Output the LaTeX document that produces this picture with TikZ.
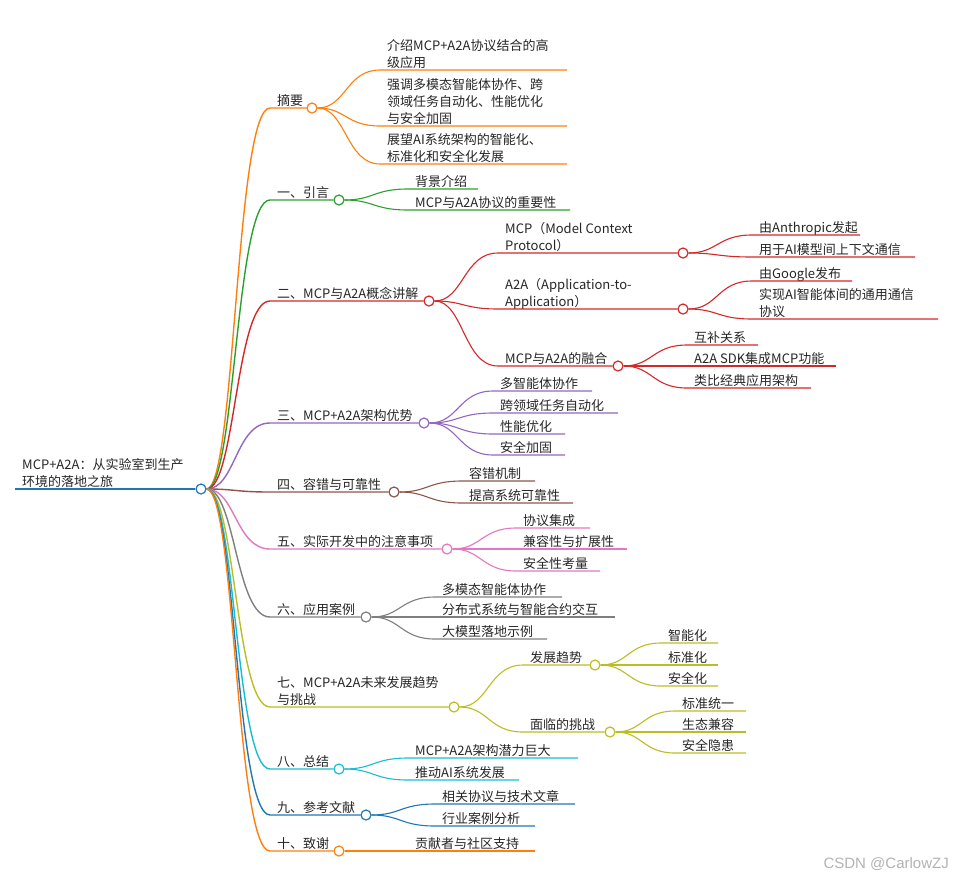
\documentclass[tikz,border=0pt]{standalone}
\usepackage{fontspec}
\usepackage{tikz}
\newfontfamily\cjk{Noto Sans CJK SC}
\newfontfamily\wmfont{Liberation Sans}
\definecolor{mmblue}{HTML}{1F77B4}
\definecolor{mmorange}{HTML}{FF7F0E}
\definecolor{mmgreen}{HTML}{2CA02C}
\definecolor{mmred}{HTML}{D62728}
\definecolor{mmpurple}{HTML}{9467BD}
\definecolor{mmbrown}{HTML}{8C564B}
\definecolor{mmpink}{HTML}{E377C2}
\definecolor{mmgray}{HTML}{7F7F7F}
\definecolor{mmolive}{HTML}{BCBD22}
\definecolor{mmcyan}{HTML}{17BECF}

\begin{document}
\begin{tikzpicture}[x=1pt, y=-1pt,
        t/.style={anchor=base west, inner sep=0, align=left, font=\cjk\fontsize{13}{17}\selectfont, text=black!85},
        dot/.style={circle, draw=#1, fill=white, line width=1.2pt, minimum size=10pt, inner sep=0},
        l0/.style={line width=1.8pt},
        l1/.style={line width=1.4pt},
        l2/.style={line width=1.1pt}]
      \useasboundingbox (0,0) rectangle (953,879);
      % root
      \coordinate (rootL) at (15,489);
      \node[t] (rootT) at (22,486) {MCP+A2A：从实验室到生产\\环境的落地之旅};
      \node[dot=mmblue] (root) at (201,489) {};
      \draw[mmblue, l0] (rootL) -- (root);

      % 摘要
      \coordinate (sum) at (270,108);
      \node[t] (sumT) at (277,105) {摘要};
      \node[dot=mmorange] (sumC) at (312,108) {};
      \draw[mmorange, l1] (root) .. controls +(34.5,0) and +(-34.5,0) .. (sum) -- (sumC);
      \coordinate (sum1) at (380,70);
      \node[t] (sum1T) at (387,67) {介绍MCP+A2A协议结合的高\\级应用};
      \draw[mmorange, l2] (sumC) .. controls +(34,0) and +(-34,0) .. (sum1) -- +(187,0);
      \coordinate (sum2) at (380,126);
      \node[t] (sum2T) at (387,123) {强调多模态智能体协作、跨\\领域任务自动化、性能优化\\与安全加固};
      \draw[mmorange, l2] (sumC) .. controls +(34,0) and +(-34,0) .. (sum2) -- +(187,0);
      \coordinate (sum3) at (380,164);
      \node[t] (sum3T) at (387,161) {展望AI系统架构的智能化、\\标准化和安全化发展};
      \draw[mmorange, l2] (sumC) .. controls +(34,0) and +(-34,0) .. (sum3) -- +(187,0);

      % 一、引言
      \coordinate (intro) at (270,200);
      \node[t] (introT) at (277,197) {一、引言};
      \node[dot=mmgreen] (introC) at (339,200) {};
      \draw[mmgreen, l1] (root) .. controls +(34.5,0) and +(-34.5,0) .. (intro) -- (introC);
      \coordinate (intro1) at (408,189);
      \node[t] (intro1T) at (415,186) {背景介绍};
      \draw[mmgreen, l2] (introC) .. controls +(34.5,0) and +(-34.5,0) .. (intro1) -- +(70,0);
      \coordinate (intro2) at (408,210);
      \node[t] (intro2T) at (415,207) {MCP与A2A协议的重要性};
      \draw[mmgreen, l2] (introC) .. controls +(34.5,0) and +(-34.5,0) .. (intro2) -- +(162,0);

      % 二、概念讲解
      \coordinate (conc) at (270,301);
      \node[t] (concT) at (277,298) {二、MCP与A2A概念讲解};
      \node[dot=mmred] (concC) at (429,301) {};
      \draw[mmred, l1] (root) .. controls +(34.5,0) and +(-34.5,0) .. (conc) -- (concC);
      \coordinate (conc1) at (498,253);
      \node[t] (conc1T) at (505,250) {MCP（Model Context\\Protocol）};
      \node[dot=mmred] (conc1C) at (683,253) {};
      \draw[mmred, l2] (concC) .. controls +(34.5,0) and +(-34.5,0) .. (conc1) -- (conc1C);
      \coordinate (conc2) at (498,309);
      \node[t] (conc2T) at (505,306) {A2A（Application-to-\\Application）};
      \node[dot=mmred] (conc2C) at (683,309) {};
      \draw[mmred, l2] (concC) .. controls +(34.5,0) and +(-34.5,0) .. (conc2) -- (conc2C);
      \coordinate (conc3) at (498,366);
      \node[t] (conc3T) at (505,363) {MCP与A2A的融合};
      \node[dot=mmred] (conc3C) at (618,366) {};
      \draw[mmred, l2] (concC) .. controls +(34.5,0) and +(-34.5,0) .. (conc3) -- (conc3C);
      \coordinate (conc11) at (752,235);
      \node[t] (conc11T) at (759,232) {由Anthropic发起};
      \draw[mmred, l2] (conc1C) .. controls +(34.5,0) and +(-34.5,0) .. (conc11) -- +(108,0);
      \coordinate (conc12) at (752,257);
      \node[t] (conc12T) at (759,254) {用于AI模型间上下文通信};
      \draw[mmred, l2] (conc1C) .. controls +(34.5,0) and +(-34.5,0) .. (conc12) -- +(163,0);
      \coordinate (conc21) at (752,281);
      \node[t] (conc21T) at (759,278) {由Google发布};
      \draw[mmred, l2] (conc2C) .. controls +(34.5,0) and +(-34.5,0) .. (conc21) -- +(100,0);
      \coordinate (conc22) at (752,319);
      \node[t] (conc22T) at (759,316) {实现AI智能体间的通用通信\\协议};
      \draw[mmred, l2] (conc2C) .. controls +(34.5,0) and +(-34.5,0) .. (conc22) -- +(186,0);
      \coordinate (conc31) at (687,345);
      \node[t] (conc31T) at (694,342) {互补关系};
      \draw[mmred, l2] (conc3C) .. controls +(34.5,0) and +(-34.5,0) .. (conc31) -- +(71,0);
      \coordinate (conc32) at (687,366);
      \node[t] (conc32T) at (694,363) {A2A SDK集成MCP功能};
      \draw[mmred, l2] (conc3C) .. controls +(34.5,0) and +(-34.5,0) .. (conc32) -- +(149,0);
      \coordinate (conc33) at (687,388);
      \node[t] (conc33T) at (694,385) {类比经典应用架构};
      \draw[mmred, l2] (conc3C) .. controls +(34.5,0) and +(-34.5,0) .. (conc33) -- +(124,0);

      % 三、架构优势
      \coordinate (adv) at (270,423);
      \node[t] (advT) at (277,420) {三、MCP+A2A架构优势};
      \node[dot=mmpurple] (advC) at (424,423) {};
      \draw[mmpurple, l1] (root) .. controls +(34.5,0) and +(-34.5,0) .. (adv) -- (advC);
      \coordinate (adv1) at (493,391);
      \node[t] (adv1T) at (500,388) {多智能体协作};
      \draw[mmpurple, l2] (advC) .. controls +(34.5,0) and +(-34.5,0) .. (adv1) -- +(99,0);
      \coordinate (adv2) at (493,413);
      \node[t] (adv2T) at (500,410) {跨领域任务自动化};
      \draw[mmpurple, l2] (advC) .. controls +(34.5,0) and +(-34.5,0) .. (adv2) -- +(125,0);
      \coordinate (adv3) at (493,434);
      \node[t] (adv3T) at (500,431) {性能优化};
      \draw[mmpurple, l2] (advC) .. controls +(34.5,0) and +(-34.5,0) .. (adv3) -- +(72,0);
      \coordinate (adv4) at (493,455);
      \node[t] (adv4T) at (500,452) {安全加固};
      \draw[mmpurple, l2] (advC) .. controls +(34.5,0) and +(-34.5,0) .. (adv4) -- +(72,0);

      % 四、容错与可靠性
      \coordinate (rel) at (270,492);
      \node[t] (relT) at (277,489) {四、容错与可靠性};
      \node[dot=mmbrown] (relC) at (394,492) {};
      \draw[mmbrown, l1] (root) .. controls +(34.5,0) and +(-34.5,0) .. (rel) -- (relC);
      \coordinate (rel1) at (462,481);
      \node[t] (rel1T) at (469,478) {容错机制};
      \draw[mmbrown, l2] (relC) .. controls +(34,0) and +(-34,0) .. (rel1) -- +(73,0);
      \coordinate (rel2) at (462,503);
      \node[t] (rel2T) at (469,500) {提高系统可靠性};
      \draw[mmbrown, l2] (relC) .. controls +(34,0) and +(-34,0) .. (rel2) -- +(111,0);

      % 五、注意事项
      \coordinate (dev) at (270,549);
      \node[t] (devT) at (277,546) {五、实际开发中的注意事项};
      \node[dot=mmpink] (devC) at (447,549) {};
      \draw[mmpink, l1] (root) .. controls +(34.5,0) and +(-34.5,0) .. (dev) -- (devC);
      \coordinate (dev1) at (516,528);
      \node[t] (dev1T) at (523,525) {协议集成};
      \draw[mmpink, l2] (devC) .. controls +(34.5,0) and +(-34.5,0) .. (dev1) -- +(74,0);
      \coordinate (dev2) at (516,549);
      \node[t] (dev2T) at (523,546) {兼容性与扩展性};
      \draw[mmpink, l2] (devC) .. controls +(34.5,0) and +(-34.5,0) .. (dev2) -- +(111,0);
      \coordinate (dev3) at (516,571);
      \node[t] (dev3T) at (523,568) {安全性考量};
      \draw[mmpink, l2] (devC) .. controls +(34.5,0) and +(-34.5,0) .. (dev3) -- +(84,0);

      % 六、应用案例
      \coordinate (case) at (270,617);
      \node[t] (caseT) at (277,614) {六、应用案例};
      \node[dot=mmgray] (caseC) at (366,617) {};
      \draw[mmgray, l1] (root) .. controls +(34.5,0) and +(-34.5,0) .. (case) -- (caseC);
      \coordinate (case1) at (435,597);
      \node[t] (case1T) at (442,594) {多模态智能体协作};
      \draw[mmgray, l2] (caseC) .. controls +(34.5,0) and +(-34.5,0) .. (case1) -- +(127,0);
      \coordinate (case2) at (435,617);
      \node[t] (case2T) at (442,614) {分布式系统与智能合约交互};
      \draw[mmgray, l2] (caseC) .. controls +(34.5,0) and +(-34.5,0) .. (case2) -- +(180,0);
      \coordinate (case3) at (435,639);
      \node[t] (case3T) at (442,636) {大模型落地示例};
      \draw[mmgray, l2] (caseC) .. controls +(34.5,0) and +(-34.5,0) .. (case3) -- +(112,0);

      % 七、未来趋势与挑战
      \coordinate (fut) at (270,707);
      \node[t] (futT) at (277,704) {七、MCP+A2A未来发展趋势\\与挑战};
      \node[dot=mmolive] (futC) at (454,707) {};
      \draw[mmolive, l1] (root) .. controls +(34.5,0) and +(-34.5,0) .. (fut) -- (futC);
      \coordinate (fut1) at (523,665);
      \node[t] (fut1T) at (530,662) {发展趋势};
      \node[dot=mmolive] (fut1C) at (595,665) {};
      \draw[mmolive, l2] (futC) .. controls +(34.5,0) and +(-34.5,0) .. (fut1) -- (fut1C);
      \coordinate (fut2) at (523,732);
      \node[t] (fut2T) at (530,729) {面临的挑战};
      \node[dot=mmolive] (fut2C) at (610,732) {};
      \draw[mmolive, l2] (futC) .. controls +(34.5,0) and +(-34.5,0) .. (fut2) -- (fut2C);
      \coordinate (fut11) at (661,643);
      \node[t] (fut11T) at (668,640) {智能化};
      \draw[mmolive, l2] (fut1C) .. controls +(33,0) and +(-33,0) .. (fut11) -- +(57,0);
      \coordinate (fut12) at (661,665);
      \node[t] (fut12T) at (668,662) {标准化};
      \draw[mmolive, l2] (fut1C) .. controls +(33,0) and +(-33,0) .. (fut12) -- +(57,0);
      \coordinate (fut13) at (661,686);
      \node[t] (fut13T) at (668,683) {安全化};
      \draw[mmolive, l2] (fut1C) .. controls +(33,0) and +(-33,0) .. (fut13) -- +(57,0);
      \coordinate (fut21) at (675,711);
      \node[t] (fut21T) at (682,708) {标准统一};
      \draw[mmolive, l2] (fut2C) .. controls +(32.5,0) and +(-32.5,0) .. (fut21) -- +(71,0);
      \coordinate (fut22) at (675,732);
      \node[t] (fut22T) at (682,729) {生态兼容};
      \draw[mmolive, l2] (fut2C) .. controls +(32.5,0) and +(-32.5,0) .. (fut22) -- +(71,0);
      \coordinate (fut23) at (675,753);
      \node[t] (fut23T) at (682,750) {安全隐患};
      \draw[mmolive, l2] (fut2C) .. controls +(32.5,0) and +(-32.5,0) .. (fut23) -- +(71,0);

      % 八、总结
      \coordinate (summ) at (270,769);
      \node[t] (summT) at (277,766) {八、总结};
      \node[dot=mmcyan] (summC) at (339,769) {};
      \draw[mmcyan, l1] (root) .. controls +(34.5,0) and +(-34.5,0) .. (summ) -- (summC);
      \coordinate (summ1) at (408,758);
      \node[t] (summ1T) at (415,755) {MCP+A2A架构潜力巨大};
      \draw[mmcyan, l2] (summC) .. controls +(34.5,0) and +(-34.5,0) .. (summ1) -- +(170,0);
      \coordinate (summ2) at (408,780);
      \node[t] (summ2T) at (415,777) {推动AI系统发展};
      \draw[mmcyan, l2] (summC) .. controls +(34.5,0) and +(-34.5,0) .. (summ2) -- +(111,0);

      % 九、参考文献
      \coordinate (ref) at (270,815);
      \node[t] (refT) at (277,812) {九、参考文献};
      \node[dot=mmblue] (refC) at (366,815) {};
      \draw[mmblue, l1] (root) .. controls +(34.5,0) and +(-34.5,0) .. (ref) -- (refC);
      \coordinate (ref1) at (435,804);
      \node[t] (ref1T) at (442,801) {相关协议与技术文章};
      \draw[mmblue, l2] (refC) .. controls +(34.5,0) and +(-34.5,0) .. (ref1) -- +(140,0);
      \coordinate (ref2) at (435,826);
      \node[t] (ref2T) at (442,823) {行业案例分析};
      \draw[mmblue, l2] (refC) .. controls +(34.5,0) and +(-34.5,0) .. (ref2) -- +(100,0);

      % 十、致谢
      \coordinate (ack) at (270,851);
      \node[t] (ackT) at (277,848) {十、致谢};
      \node[dot=mmorange] (ackC) at (339,851) {};
      \draw[mmorange, l1] (root) .. controls +(34.5,0) and +(-34.5,0) .. (ack) -- (ackC);
      \coordinate (ack1) at (408,851);
      \node[t] (ack1T) at (415,848) {贡献者与社区支持};
      \draw[mmorange, l2] (ackC) -- (ack1) -- +(127,0);

      \node[anchor=base east, inner sep=0, font=\wmfont\fontsize{15}{15}\selectfont, text=black!30] (wm) at (949,868) {CSDN @CarlowZJ};
      \end{tikzpicture}
\end{document}
